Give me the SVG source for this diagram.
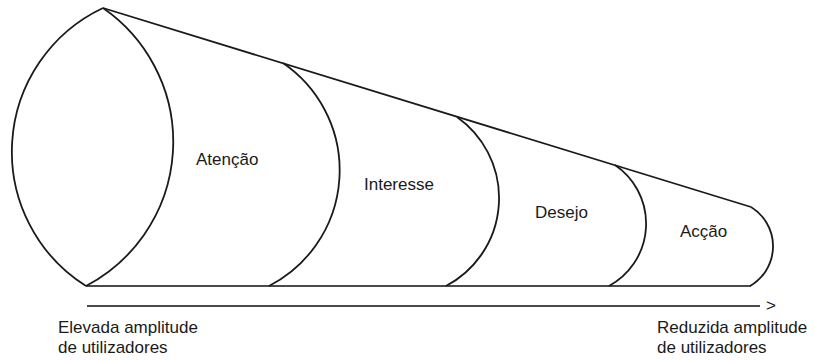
<svg xmlns="http://www.w3.org/2000/svg" width="815" height="360" viewBox="0 0 815 360">
<style>
.s{fill:none;stroke:#1a1a1a;stroke-width:1.8}
.g{fill:none;stroke:#4a4a4a;stroke-width:1.8}
.t{font-family:"Liberation Sans",Arial,sans-serif;font-size:17px;fill:#1a1a1a}
</style>
<rect width="815" height="360" fill="#fff"/>
<g id="connectors">
<line class="s" x1="103" y1="8" x2="751" y2="207"/>
<line class="g" x1="86" y1="286" x2="751" y2="286"/>
<line class="g" x1="87" y1="306" x2="760" y2="306"/>
<text class="t" x="766" y="311">&gt;</text>
</g>
<g id="lens">
<path class="s" d="M103,8 A158.8,158.8 0 0 0 86,286"/>
<path class="s" d="M103,8 A162.7,162.7 0 0 1 86,286"/>
</g>
<g id="atencao">
<path class="s" d="M283,63 A130,130 0 0 1 269,286"/>
<text class="t" x="196" y="165">Atenção</text>
</g>
<g id="interesse">
<path class="s" d="M457,117 A99.3,99.3 0 0 1 446,286"/>
<text class="t" x="364" y="190">Interesse</text>
</g>
<g id="desejo">
<path class="s" d="M615,165 A70.9,70.9 0 0 1 609,286"/>
<text class="t" x="535" y="218">Desejo</text>
</g>
<g id="accao">
<path class="s" d="M751,207 A45.9,45.9 0 0 1 750,286"/>
<text class="t" x="680" y="237">Acção</text>
</g>
<g id="labels">
<text class="t" x="58" y="333">Elevada amplitude</text>
<text class="t" x="58" y="353">de utilizadores</text>
<text class="t" x="657" y="333">Reduzida amplitude</text>
<text class="t" x="657" y="353">de utilizadores</text>
</g>
</svg>
